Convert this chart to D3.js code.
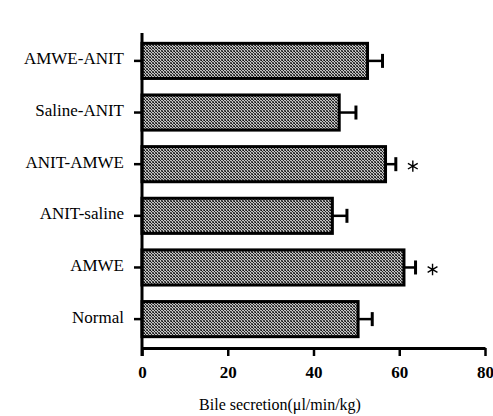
<!DOCTYPE html>
<html>
<head>
<meta charset="utf-8">
<script src="https://cdn.jsdelivr.net/npm/d3@7"></script>
<style>
  body { margin: 0; background: #fff; }
  svg text { font-family: "Times New Roman", "Liberation Serif", "DejaVu Serif", serif !important; fill: #000; }
</style>
</head>
<body>
<svg width="493" height="416"></svg>
<script>
const groups = ['AMWE-ANIT', 'Saline-ANIT', 'ANIT-AMWE', 'ANIT-saline', 'AMWE', 'Normal'];
const means = [52.6, 46.0, 56.8, 44.4, 61.1, 50.4];
const errors = [3.5, 3.9, 2.4, 3.4, 2.7, 3.3];
const significant = [false, false, true, false, true, false];
const xTicks = [0, 20, 40, 60, 80];

const data = groups.map((g, i) => ({ group: g, mean: means[i], err: errors[i], sig: significant[i] }));

const svg = d3.select('svg');

// dithered grey fill like the printed halftone
const pat = svg.append('defs').append('pattern')
  .attr('id', 'dots')
  .attr('width', 3)
  .attr('height', 3)
  .attr('patternUnits', 'userSpaceOnUse');
pat.append('rect').attr('width', 3).attr('height', 3).attr('fill', '#c4c4c4');
pat.append('rect').attr('x', 0).attr('y', 0).attr('width', 1).attr('height', 1).attr('fill', '#111');
pat.append('rect').attr('x', 1).attr('y', 1).attr('width', 1).attr('height', 1).attr('fill', '#222');
pat.append('rect').attr('x', 2).attr('y', 2).attr('width', 1).attr('height', 1).attr('fill', '#333');
pat.append('rect').attr('x', 2).attr('y', 0).attr('width', 1).attr('height', 1).attr('fill', '#555');
pat.append('rect').attr('x', 0).attr('y', 2).attr('width', 1).attr('height', 1).attr('fill', '#666');

const xScale = d3.scaleLinear().domain([0, 80]).range([142, 485]);
const yScale = d3.scaleBand().domain(groups).range([33, 347]).paddingInner(0.32).paddingOuter(0.2);

const g = svg.append('g');

// bars
g.selectAll('.bar')
  .data(data)
  .enter()
  .append('rect')
  .attr('class', 'bar')
  .attr('x', xScale(0))
  .attr('y', (d) => yScale(d.group))
  .attr('width', (d) => xScale(d.mean) - xScale(0))
  .attr('height', yScale.bandwidth())
  .attr('fill', 'url(#dots)')
  .attr('stroke', '#000')
  .attr('stroke-width', 3);

// error bars
const eb = g.selectAll('.err')
  .data(data)
  .enter()
  .append('g')
  .attr('class', 'err');
eb.append('line')
  .attr('x1', (d) => xScale(d.mean))
  .attr('x2', (d) => xScale(d.mean + d.err))
  .attr('y1', (d) => yScale(d.group) + yScale.bandwidth() / 2)
  .attr('y2', (d) => yScale(d.group) + yScale.bandwidth() / 2)
  .attr('stroke', '#000')
  .attr('stroke-width', 2.5);
eb.append('line')
  .attr('x1', (d) => xScale(d.mean + d.err))
  .attr('x2', (d) => xScale(d.mean + d.err))
  .attr('y1', (d) => yScale(d.group) + yScale.bandwidth() / 2 - 7)
  .attr('y2', (d) => yScale(d.group) + yScale.bandwidth() / 2 + 7)
  .attr('stroke', '#000')
  .attr('stroke-width', 3);

// significance stars
g.selectAll('.star')
  .data(data.filter((d) => d.sig))
  .enter()
  .append('path')
  .attr('class', 'star')
  .attr('transform', (d) => `translate(${xScale(d.mean + d.err) + 17},${yScale(d.group) + yScale.bandwidth() / 2 + 2})`)
  .attr('d', d3.symbol(d3.symbolAsterisk, 90))
  .attr('fill', 'none')
  .attr('stroke', '#000')
  .attr('stroke-width', 1.4);

// x axis
const xAxis = g.append('g')
  .attr('transform', 'translate(0,348)')
  .call(d3.axisBottom(xScale).tickValues(xTicks).tickSize(8).tickSizeOuter(0).tickPadding(10));
xAxis.select('.domain').attr('stroke-width', 3);
xAxis.selectAll('.tick line').attr('stroke-width', 2.5);
xAxis.selectAll('.tick text')
  .attr('font-size', '17px')
  .attr('font-weight', 'bold');

// y axis
const yAxis = g.append('g')
  .attr('transform', 'translate(142,0)')
  .call(d3.axisLeft(yScale).tickSize(8).tickSizeOuter(0).tickPadding(10));
yAxis.select('.domain').attr('d', 'M0,33V356').attr('stroke-width', 3);
yAxis.selectAll('.tick line').attr('stroke-width', 2.5);
yAxis.selectAll('.tick text')
  .attr('font-size', '17px')
  .attr('dy', '0.2em');

svg.append('text')
  .attr('x', 280)
  .attr('y', 410)
  .attr('text-anchor', 'middle')
  .attr('font-size', '16px')
  .text('Bile secretion(\u03bcl/min/kg)');
</script>
</body>
</html>
